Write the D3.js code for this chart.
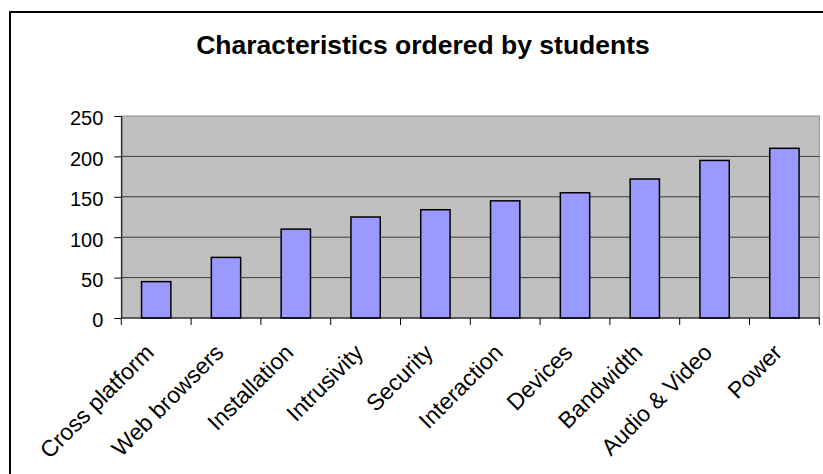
<!DOCTYPE html>
<html>
<head>
<meta charset="utf-8">
<script src="https://cdn.jsdelivr.net/npm/d3@7"></script>
<style>
  html, body { margin: 0; padding: 0; background: #fff; }
  svg { display: block; }
  text { font-family: Arial, "Liberation Sans", sans-serif; fill: #000; }
</style>
</head>
<body>
<svg id="chart" width="823" height="474"></svg>
<script>
const categories = ["Cross platform", "Web browsers", "Installation", "Intrusivity", "Security",
  "Interaction", "Devices", "Bandwidth", "Audio & Video", "Power"];
const values = [45, 75, 110, 125, 134, 145, 155, 172, 195, 210];
const yTicks = [0, 50, 100, 150, 200, 250];
const title = "Characteristics ordered by students";

const svg = d3.select("#chart");
const plot = { left: 121.3, right: 819.3, top: 116, bottom: 318 };

// chart area frame (extends past the right/bottom edges as in the reference)
svg.append("rect")
  .attr("x", 10).attr("y", 12)
  .attr("width", 860).attr("height", 520)
  .attr("fill", "#fff").attr("stroke", "#000").attr("stroke-width", 2);

svg.append("text")
  .attr("x", 423).attr("y", 54)
  .attr("text-anchor", "middle")
  .attr("font-size", 26.5).attr("font-weight", "bold")
  .text(title);

const x = d3.scaleBand().domain(categories)
  .range([plot.left, plot.right])
  .paddingInner(0.58).paddingOuter(0.29);
const xb = d3.scaleBand().domain(categories).range([plot.left, plot.right]).padding(0);
const y = d3.scaleLinear().domain([0, 250]).range([plot.bottom, plot.top]);

// plot area
svg.append("rect")
  .attr("x", plot.left).attr("y", plot.top)
  .attr("width", plot.right - plot.left).attr("height", plot.bottom - plot.top)
  .attr("fill", "#c0c0c0").attr("stroke", "#8a8a8a").attr("stroke-width", 1);

// gridlines
svg.append("g").selectAll("line")
  .data(yTicks.filter(t => t > 0 && t < 250))
  .join("line")
  .attr("x1", plot.left).attr("x2", plot.right)
  .attr("y1", d => y(d)).attr("y2", d => y(d))
  .attr("stroke", "#3a3a3a").attr("stroke-width", 1);

// bars
svg.append("g").selectAll("rect")
  .data(values)
  .join("rect")
  .attr("x", (d, i) => x(categories[i]))
  .attr("y", d => y(d))
  .attr("width", x.bandwidth())
  .attr("height", d => y(0) - y(d))
  .attr("fill", "#9999ff")
  .attr("stroke", "#000").attr("stroke-width", 1.5);

// y axis
const yAxis = svg.append("g")
  .attr("transform", `translate(${plot.left},0)`)
  .call(d3.axisLeft(y).tickValues(yTicks).tickSize(7).tickPadding(11).tickSizeOuter(0));
yAxis.select(".domain").attr("stroke", "#000");
yAxis.selectAll(".tick line").attr("stroke", "#000");
yAxis.selectAll(".tick text")
  .attr("font-size", 20).attr("font-family", "Arial, 'Liberation Sans', sans-serif")
  .attr("dy", "0.44em").attr("fill", "#000");

// x axis line and ticks at band boundaries
const xAxisG = svg.append("g");
xAxisG.append("line")
  .attr("x1", plot.left).attr("x2", plot.right)
  .attr("y1", plot.bottom).attr("y2", plot.bottom)
  .attr("stroke", "#000").attr("stroke-width", 1);
const boundaries = categories.map(c => xb(c)).concat([plot.right]);
xAxisG.selectAll("line.tk")
  .data(boundaries)
  .join("line").attr("class", "tk")
  .attr("x1", d => d).attr("x2", d => d)
  .attr("y1", plot.bottom).attr("y2", plot.bottom + 7)
  .attr("stroke", "#000").attr("stroke-width", 1);

// category labels rotated -45
xAxisG.selectAll("text")
  .data(categories)
  .join("text")
  .attr("transform", d => `translate(${xb(d) + xb.bandwidth() / 2 - 1},${plot.bottom + 36}) rotate(-45)`)
  .attr("text-anchor", "end")
  .attr("font-size", 23)
  .text(d => d);
</script>
</body>
</html>
